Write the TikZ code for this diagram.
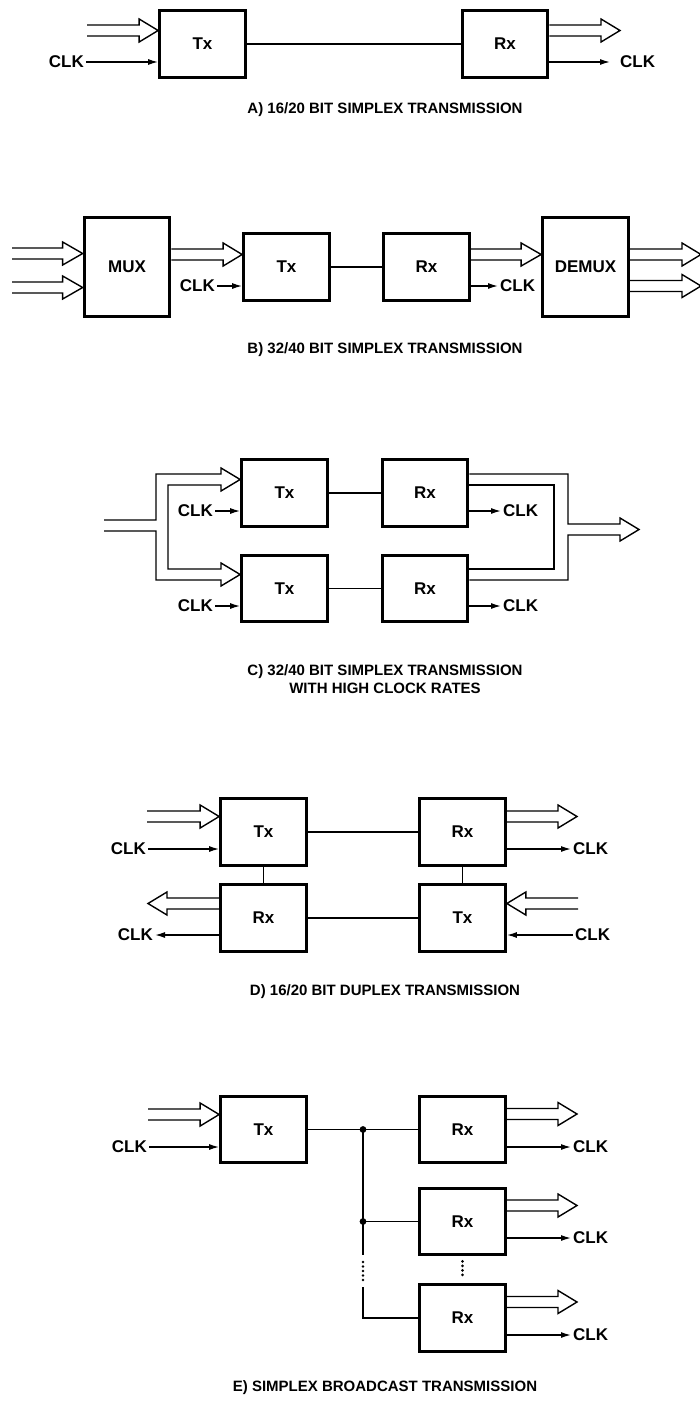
\documentclass[tikz,border=0pt]{standalone}
\usepackage{fontspec}
\setmainfont{Liberation Sans}
\usetikzlibrary{arrows.meta}
% double-line bus with open head: start, tip (same y), head offset
\newcommand{\busto}[3]{%
  \draw[bus] ([yshift=5.5pt]#1) -- ([xshift=#3,yshift=5.5pt]#2) -- ([xshift=#3,yshift=11.5pt]#2) -- (#2)
    -- ([xshift=#3,yshift=-11.5pt]#2) -- ([xshift=#3,yshift=-5.5pt]#2) -- ([yshift=-5.5pt]#1);}
\begin{document}
\begin{tikzpicture}
        [x=1pt,y=-1pt,
        box/.style={draw, line width=3.2pt, minimum width=85.5pt, minimum height=66.5pt, inner sep=0pt, font=\fontsize{17}{17}\selectfont\bfseries},
        bigbox/.style={box, minimum height=98.5pt},
        clk/.style={inner sep=2pt, font=\fontsize{17}{17}\selectfont\bfseries},
        title/.style={align=center, font=\fontsize{15}{17.5}\selectfont\bfseries},
        link/.style={line width=1.4pt},
        bus/.style={line width=1.4pt},
        clkarr/.style={line width=1.4pt, -{Latex[length=10pt,width=6pt]}},
        vdots/.style={line width=2.8pt, line cap=round, dash pattern=on 0pt off 4.5pt}]
        \useasboundingbox (0,0) rectangle (699,1402);

        % A) simplex
        \node[box] (txa) at (202.5,44) {Tx};
        \node[box] (rxa) at (505,44) {Rx};
        \coordinate (ina) at (87,30.5);
        \coordinate (outa) at (620,30.5);
        \node[clk, anchor=east] (clkia) at (86,62) {CLK};
        \node[clk, anchor=west] (clkoa) at (618,62) {CLK};
        \draw[link] (txa) -- (rxa);
        \busto{ina}{txa.west |- ina}{-19pt}
        \busto{rxa.east |- outa}{outa}{-19pt}
        \draw[clkarr] (clkia) -- (txa.west |- clkia);
        \draw[clkarr, shorten >=8pt] (rxa.east |- clkoa) -- (clkoa);
        \node[title] (tia) at (385,110) {A) 16/20 BIT SIMPLEX TRANSMISSION};

        % B) mux / demux
        \node[bigbox] (mux) at (127,267) {MUX};
        \node[box] (txb) at (286.5,267) {Tx};
        \node[box] (rxb) at (426.5,267) {Rx};
        \node[bigbox] (demux) at (585.5,267) {DEMUX};
        \coordinate (inb1) at (12,253.5);
        \coordinate (inb2) at (12,287.5);
        \coordinate (busb) at (0,254.5);
        \coordinate (outb1) at (701,254.5);
        \coordinate (outb2) at (701,286);
        \node[clk, anchor=east] (clkib) at (217,286) {CLK};
        \node[clk, anchor=west] (clkob) at (498,286) {CLK};
        \draw[link] (txb) -- (rxb);
        \busto{inb1}{mux.west |- inb1}{-20pt}
        \busto{inb2}{mux.west |- inb2}{-20pt}
        \busto{mux.east |- busb}{txb.west |- busb}{-19pt}
        \busto{rxb.east |- busb}{demux.west |- busb}{-20pt}
        \busto{demux.east |- outb1}{outb1}{-19pt}
        \busto{demux.east |- outb2}{outb2}{-19pt}
        \draw[clkarr] (clkib) -- (txb.west |- clkib);
        \draw[clkarr] (rxb.east |- clkob) -- (clkob);
        \node[title] (tib) at (385,350) {B) 32/40 BIT SIMPLEX TRANSMISSION};

        % C) two parallel links
        \node[box] (txc1) at (284.5,493) {Tx};
        \node[box] (txc2) at (284.5,588.5) {Tx};
        \node[box] (rxc1) at (425,493) {Rx};
        \node[box] (rxc2) at (425,588.5) {Rx};
        \coordinate (inc) at (104,525.5);
        \coordinate (outc) at (639,529.5);
        \node[clk, anchor=east] (clkic1) at (215,511) {CLK};
        \node[clk, anchor=east] (clkic2) at (215,606) {CLK};
        \node[clk, anchor=west] (clkoc1) at (501,511) {CLK};
        \node[clk, anchor=west] (clkoc2) at (501,606) {CLK};
        \draw[link] (txc1) -- (rxc1);
        \draw[link] (txc2) -- (rxc2);
        \draw[bus] ([yshift=5.5pt]inc) -- (156,520) -- (156,474) -- (221,474) -- (221,468) -- (txc1.west |- 0,479.5)
            -- (221,491) -- (221,485) -- (168,485) -- (168,569) -- (221,569) -- (221,563) -- (txc2.west |- 0,574.5)
            -- (221,586) -- (221,580) -- (156,580) -- (156,531) -- ([yshift=-5.5pt]inc);
        \draw[bus] (rxc1.east |- 0,474) -- (568,474) -- (568,524) -- (620,524) -- (620,518) -- (outc)
            -- (620,541) -- (620,535) -- (568,535) -- (568,580) -- (rxc2.east |- 0,580);
        \draw[bus] (rxc1.east |- 0,485) -- (554,485) -- (554,569) -- (rxc2.east |- 0,569);
        \draw[clkarr] (clkic1) -- (txc1.west |- clkic1);
        \draw[clkarr] (clkic2) -- (txc2.west |- clkic2);
        \draw[clkarr] (rxc1.east |- clkoc1) -- (clkoc1);
        \draw[clkarr] (rxc2.east |- clkoc2) -- (clkoc2);
        \node[title] (tic) at (385,679) {C) 32/40 BIT SIMPLEX TRANSMISSION\\WITH HIGH CLOCK RATES};

        % D) duplex
        \node[box] (txd1) at (263.5,832) {Tx};
        \node[box] (rxd1) at (263.5,918) {Rx};
        \node[box] (rxd2) at (462.5,832) {Rx};
        \node[box] (txd2) at (462.5,918) {Tx};
        \coordinate (ind1) at (147,816.5);
        \coordinate (outd1) at (148,903.5);
        \coordinate (outd2) at (577,816.5);
        \coordinate (ind2) at (578,903.5);
        \node[clk, anchor=east] (clkid1) at (148,849) {CLK};
        \node[clk, anchor=east] (clkod1) at (155,935) {CLK};
        \node[clk, anchor=west] (clkod2) at (571,849) {CLK};
        \node[clk, anchor=west] (clkid2) at (573,935) {CLK};
        \draw[link] (txd1) -- (rxd1);
        \draw[link] (rxd2) -- (txd2);
        \draw[link] (txd1) -- (rxd2);
        \draw[link] (rxd1) -- (txd2);
        \busto{ind1}{txd1.west |- ind1}{-19pt}
        \busto{rxd1.west |- outd1}{outd1}{19pt}
        \busto{rxd2.east |- outd2}{outd2}{-19pt}
        \busto{ind2}{txd2.east |- ind2}{19pt}
        \draw[clkarr] (clkid1) -- (txd1.west |- clkid1);
        \draw[clkarr] (rxd1.west |- clkod1) -- (clkod1);
        \draw[clkarr] (rxd2.east |- clkod2) -- (clkod2);
        \draw[clkarr] (clkid2) -- (txd2.east |- clkid2);
        \node[title] (tid) at (385,992) {D) 16/20 BIT DUPLEX TRANSMISSION};

        % E) broadcast
        \node[box] (txe) at (263.5,1129.5) {Tx};
        \node[box] (rxe1) at (462.5,1129.5) {Rx};
        \node[box] (rxe2) at (462.5,1221.5) {Rx};
        \node[box] (rxe3) at (462.5,1318) {Rx};
        \coordinate (ine) at (148,1114.5);
        \coordinate (oute1) at (577,1114);
        \coordinate (oute2) at (577,1205.5);
        \coordinate (oute3) at (577,1302);
        \coordinate (j1) at (363,1129.5);
        \coordinate (j2) at (363,1221.5);
        \node[clk, anchor=east] (clkie) at (149,1147) {CLK};
        \node[clk, anchor=west] (clkoe1) at (571,1147) {CLK};
        \node[clk, anchor=west] (clkoe2) at (571,1238) {CLK};
        \node[clk, anchor=west] (clkoe3) at (571,1335) {CLK};
        \draw[link] (txe) -- (rxe1);
        \draw[link] (j1) -- ++(0,125.5);
        \draw[vdots] (363,1262) -- (363,1281);
        \draw[link] (363,1287) |- (rxe3.west);
        \draw[link] (j2) -- (rxe2);
        \fill (j1) circle (3.4pt);
        \fill (j2) circle (3.4pt);
        \draw[vdots] ([yshift=-5pt]rxe2.south) -- ([yshift=5pt]rxe3.north);
        \busto{ine}{txe.west |- ine}{-19pt}
        \busto{rxe1.east |- oute1}{oute1}{-19pt}
        \busto{rxe2.east |- oute2}{oute2}{-19pt}
        \busto{rxe3.east |- oute3}{oute3}{-19pt}
        \draw[clkarr] (clkie) -- (txe.west |- clkie);
        \draw[clkarr] (rxe1.east |- clkoe1) -- (clkoe1);
        \draw[clkarr] (rxe2.east |- clkoe2) -- (clkoe2);
        \draw[clkarr] (rxe3.east |- clkoe3) -- (clkoe3);
        \node[title] (tie) at (385,1388) {E) SIMPLEX BROADCAST TRANSMISSION};

    \end{tikzpicture}
\end{document}
